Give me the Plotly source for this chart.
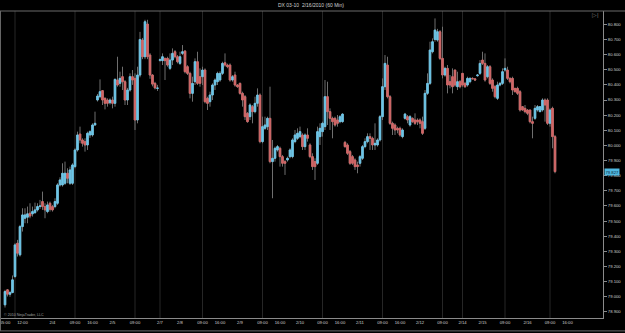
import plotly.graph_objects as go

# ---- data (DX 03-10, 60 min bars, 2/3/2010 - 2/16/2010), bar index on x ----
OPEN = [
    78.947, 79.046, 79.017, 79.028, 79.134, 79.354, 79.277, 79.464, 79.519, 79.526,
    79.552, 79.548, 79.556, 79.574, 79.596, 79.629, 79.596, 79.563, 79.618, 79.596,
    79.596, 79.618, 79.739, 79.739, 79.750, 79.816, 79.750, 79.750, 79.860, 79.970,
    80.075, 80.036, 80.025, 80.003, 80.069, 80.069, 80.135, 80.300, 80.322, 80.362,
    80.311, 80.300, 80.282, 80.300, 80.278, 80.432, 80.410, 80.454, 80.421, 80.300,
    80.366, 80.454, 80.443, 80.168, 80.465, 80.696, 80.586, 80.802, 80.597, 80.465,
    80.410, 80.377,
    80.562, 80.560, 80.575, 80.575, 80.509, 80.564, 80.619, 80.586, 80.542, 80.608,
    80.623, 80.520, 80.476, 80.344, 80.421, 80.553, 80.454, 80.454, 80.498, 80.311,
    80.289, 80.333, 80.399, 80.421, 80.432, 80.476, 80.546, 80.531, 80.531, 80.432,
    80.465, 80.399, 80.410, 80.344, 80.322, 80.212, 80.190, 80.256, 80.223, 80.278,
    80.333, 80.025, 80.113, 80.124, 80.179, 79.893, 79.915, 79.970, 79.981, 79.926,
    79.893, 79.904, 79.926, 79.926, 80.025, 80.047, 80.058, 80.069, 79.992, 80.069,
    80.003, 79.926, 79.893, 79.882, 80.058, 80.091, 80.124, 80.322, 80.223, 80.179,
    80.179, 80.168, 80.157, 80.157, 80.020, 80.003, 79.959, 79.926, 79.904, 79.871,
    79.882, 79.915, 79.992, 80.025, 80.058, 80.047, 80.003, 80.003, 80.036, 80.190,
    80.388, 80.531, 80.322, 80.146, 80.135, 80.113, 80.113, 80.058, 80.179, 80.190,
    80.135, 80.179, 80.168, 80.168, 80.168, 80.157, 80.113, 80.344, 80.410, 80.619,
    80.700, 80.696, 80.751, 80.575, 80.465, 80.509, 80.421, 80.454, 80.498, 80.388, 80.421,
    80.476, 80.410, 80.399, 80.421, 80.443, 80.440, 80.460, 80.476, 80.564, 80.542,
    80.454, 80.520, 80.432, 80.388, 80.311, 80.399, 80.410, 80.498, 80.498, 80.443,
    80.443, 80.377, 80.377, 80.355, 80.256, 80.245, 80.234, 80.234, 80.157, 80.179,
    80.234, 80.223, 80.234, 80.300, 80.300, 80.146, 80.245, 80.058,
]
HIGH = [
    79.046, 79.050, 79.040, 79.141, 79.354, 79.376, 79.475, 79.585, 79.585, 79.596,
    79.618, 79.596, 79.622, 79.618, 79.640, 79.695, 79.618, 79.629, 79.629, 79.607,
    79.651, 79.750, 79.790, 79.882, 79.893, 79.849, 79.860, 79.882, 79.981, 80.091,
    80.124, 80.047, 80.047, 80.091, 80.100, 80.146, 80.223, 80.340, 80.436, 80.366,
    80.318, 80.311, 80.311, 80.322, 80.443, 80.586, 80.487, 80.520, 80.432, 80.380,
    80.476, 80.498, 80.476, 80.520, 80.750, 80.710, 80.830, 80.830, 80.610, 80.470,
    80.420, 80.400,
    80.575, 80.608, 80.580, 80.586, 80.608, 80.641, 80.630, 80.597, 80.619, 80.663,
    80.630, 80.530, 80.487, 80.454, 80.575, 80.619, 80.509, 80.520, 80.509, 80.322,
    80.355, 80.410, 80.443, 80.487, 80.490, 80.553, 80.608, 80.540, 80.542, 80.465,
    80.487, 80.405, 80.415, 80.355, 80.333, 80.220, 80.278, 80.267, 80.322, 80.377,
    80.344, 80.190, 80.190, 80.190, 80.388, 80.036, 79.992, 80.003, 79.992, 79.937,
    79.904, 79.926, 79.981, 80.047, 80.102, 80.113, 80.124, 80.080, 80.080, 80.113,
    80.014, 79.948, 79.915, 80.124, 80.146, 80.157, 80.432, 80.421, 80.245, 80.190,
    80.190, 80.201, 80.201, 80.212, 80.030, 80.014, 79.970, 79.937, 79.915, 79.893,
    79.937, 80.003, 80.047, 80.080, 80.080, 80.058, 80.146, 80.047, 80.201, 80.443,
    80.597, 80.586, 80.333, 80.157, 80.146, 80.124, 80.124, 80.113, 80.215, 80.201,
    80.201, 80.185, 80.212, 80.179, 80.179, 80.190, 80.366, 80.476, 80.685, 80.707,
    80.839, 80.770, 80.762, 80.784, 80.520, 80.531, 80.465, 80.509, 80.498, 80.487, 80.432,
    80.476, 80.420, 80.454, 80.450, 80.450, 80.445, 80.470, 80.564, 80.619, 80.608,
    80.531, 80.531, 80.443, 80.399, 80.421, 80.420, 80.509, 80.575, 80.520, 80.450,
    80.454, 80.380, 80.388, 80.366, 80.260, 80.267, 80.240, 80.234, 80.190, 80.267,
    80.267, 80.260, 80.311, 80.311, 80.311, 80.245, 80.256, 80.069,
]
LOW = [
    78.929, 79.002, 79.000, 79.024, 79.123, 79.266, 79.266, 79.431, 79.486, 79.486,
    79.519, 79.530, 79.548, 79.563, 79.580, 79.574, 79.519, 79.552, 79.563, 79.563,
    79.585, 79.607, 79.728, 79.728, 79.739, 79.750, 79.739, 79.739, 79.849, 79.959,
    80.014, 79.992, 79.959, 79.970, 80.050, 80.058, 80.130, 80.290, 80.311, 80.267,
    80.238, 80.256, 80.270, 80.245, 80.256, 80.388, 80.388, 80.366, 80.267, 80.267,
    80.355, 80.400, 80.102, 80.146, 80.450, 80.570, 80.570, 80.570, 80.440, 80.390,
    80.370, 80.360,
    80.553, 80.531, 80.432, 80.520, 80.498, 80.531, 80.575, 80.542, 80.531, 80.597,
    80.476, 80.465, 80.311, 80.289, 80.399, 80.399, 80.388, 80.399, 80.278, 80.234,
    80.256, 80.300, 80.366, 80.399, 80.420, 80.465, 80.520, 80.510, 80.421, 80.421,
    80.388, 80.380, 80.335, 80.256, 80.168, 80.150, 80.168, 80.146, 80.212, 80.256,
    80.014, 80.014, 80.102, 80.102, 79.882, 79.651, 79.893, 79.959, 79.860, 79.860,
    79.805, 79.893, 79.915, 79.915, 80.014, 80.036, 80.047, 79.970, 79.970, 80.025,
    79.915, 79.838, 79.772, 79.871, 80.003, 80.058, 80.102, 80.135, 80.102, 80.047,
    80.124, 80.124, 80.146, 80.150, 79.985, 79.937, 79.871, 79.871, 79.838, 79.816,
    79.860, 79.904, 79.981, 80.014, 79.970, 79.970, 79.970, 79.992, 80.025, 80.168,
    80.366, 80.311, 80.135, 80.069, 80.069, 80.080, 80.058, 80.047, 80.170, 80.146,
    80.124, 80.150, 80.135, 80.135, 80.113, 80.069, 80.102, 80.333, 80.399, 80.608,
    80.685, 80.685, 80.564, 80.443, 80.454, 80.344, 80.377, 80.344, 80.388, 80.366, 80.377,
    80.388, 80.380, 80.388, 80.410, 80.435, 80.425, 80.455, 80.465, 80.531, 80.421,
    80.443, 80.399, 80.355, 80.311, 80.300, 80.390, 80.399, 80.487, 80.432, 80.410,
    80.333, 80.350, 80.333, 80.223, 80.230, 80.212, 80.200, 80.146, 80.047, 80.168,
    80.223, 80.220, 80.223, 80.157, 80.135, 80.124, 79.981, 79.816,
]
CLOSE = [
    79.035, 79.017, 79.028, 79.112, 79.343, 79.288, 79.464, 79.541, 79.541, 79.548,
    79.534, 79.563, 79.574, 79.596, 79.600, 79.596, 79.574, 79.607, 79.578, 79.574,
    79.629, 79.739, 79.772, 79.816, 79.816, 79.783, 79.838, 79.871, 79.970, 80.069,
    80.036, 80.014, 80.003, 80.080, 80.091, 80.135, 80.146, 80.326, 80.355, 80.300,
    80.278, 80.278, 80.300, 80.278, 80.436, 80.399, 80.443, 80.421, 80.300, 80.366,
    80.454, 80.432, 80.168, 80.465, 80.700, 80.586, 80.817, 80.586, 80.465, 80.405,
    80.380, 80.379,
    80.566, 80.586, 80.560, 80.531, 80.564, 80.608, 80.586, 80.553, 80.586, 80.619,
    80.487, 80.476, 80.344, 80.410, 80.553, 80.410, 80.410, 80.498, 80.289, 80.278,
    80.333, 80.399, 80.432, 80.476, 80.476, 80.542, 80.531, 80.520, 80.432, 80.454,
    80.399, 80.388, 80.344, 80.300, 80.190, 80.157, 80.267, 80.223, 80.278, 80.333,
    80.025, 80.124, 80.135, 80.179, 79.893, 79.915, 79.981, 79.992, 79.926, 79.882,
    79.882, 79.915, 79.970, 80.036, 80.069, 80.080, 80.091, 79.992, 80.069, 80.047,
    79.926, 79.860, 79.860, 80.091, 80.113, 80.146, 80.322, 80.223, 80.179, 80.157,
    80.135, 80.146, 80.190, 80.207, 79.992, 79.948, 79.882, 79.882, 79.860, 79.860,
    79.926, 79.992, 80.025, 80.058, 80.047, 80.003, 80.014, 80.036, 80.190, 80.388,
    80.542, 80.322, 80.146, 80.113, 80.102, 80.102, 80.069, 80.102, 80.207, 80.168,
    80.190, 80.157, 80.146, 80.157, 80.146, 80.080, 80.344, 80.410, 80.630, 80.685,
    80.762, 80.751, 80.575, 80.465, 80.509, 80.399, 80.399, 80.388, 80.399, 80.421, 80.388,
    80.399, 80.388, 80.443, 80.443, 80.441, 80.432, 80.465, 80.542, 80.542, 80.432,
    80.520, 80.410, 80.377, 80.322, 80.399, 80.410, 80.487, 80.509, 80.443, 80.421,
    80.366, 80.355, 80.344, 80.234, 80.234, 80.223, 80.212, 80.157, 80.146, 80.245,
    80.256, 80.256, 80.300, 80.267, 80.146, 80.234, 80.058, 79.827,
]
assert len(OPEN) == len(HIGH) == len(LOW) == len(CLOSE) == 221

# time-axis labels (bar index -> label)
TICK_POS = [0, 7, 19, 28, 35, 43, 52, 62, 70, 79, 86, 94, 103, 110, 118, 127, 134,
            142, 151, 158, 166, 175, 183, 191, 200, 209, 218, 225]
TICK_TEXT = ["05:00", "12:00", "2/4", "09:00", "16:00", "2/5", "09:00", "2/7", "2/8",
             "09:00", "16:00", "2/9", "09:00", "16:00", "2/10", "09:00", "16:00", "2/11",
             "09:00", "16:00", "2/12", "09:00", "2/14", "2/15", "09:00", "2/16", "09:00", "16:00"]
# session-start / 09:00 separator lines (bar index)
GRID_POS = [4, 28, 52, 62, 79, 103, 127, 151, 175, 183, 200, 218]

Y_TICKS = [78.9, 79.0, 79.1, 79.2, 79.3, 79.4, 79.5, 79.6, 79.7, 79.8,
           79.9, 80.0, 80.1, 80.2, 80.3, 80.4, 80.5, 80.6, 80.7, 80.8]

TITLE = "DX 03-10  2/16/2010 (60 Min)"
COPYRIGHT = "© 2010 NinjaTrader, LLC"

UP = "#6cc6e8"
DOWN = "#d26666"
WICK = "#6e6e6e"
AXIS = "#8a8a8a"
TXT = "#d0d0d0"
FONT = "Liberation Sans, Arial, sans-serif"

X = list(range(len(CLOSE)))
body_hi = [max(o, c) for o, c in zip(OPEN, CLOSE)]
body_lo = [min(o, c) for o, c in zip(OPEN, CLOSE)]

fig = go.Figure()
# wicks (full range, grey)
fig.add_trace(go.Candlestick(
    x=X, open=OPEN, high=HIGH, low=LOW, close=CLOSE,
    increasing=dict(line=dict(color=WICK, width=1), fillcolor=WICK),
    decreasing=dict(line=dict(color=WICK, width=1), fillcolor=WICK),
    hoverinfo="skip", showlegend=False,
))
# coloured bodies
fig.add_trace(go.Candlestick(
    x=X, open=OPEN, high=body_hi, low=body_lo, close=CLOSE,
    increasing=dict(line=dict(color=UP, width=1), fillcolor=UP),
    decreasing=dict(line=dict(color=DOWN, width=1), fillcolor=DOWN),
    hoverinfo="skip", showlegend=False,
))

shapes = []
for g in GRID_POS:
    shapes.append(dict(type="line", xref="x", yref="paper", x0=g, x1=g, y0=0, y1=1,
                       line=dict(color="#262626", width=1), layer="below"))
# frame lines
shapes.append(dict(type="line", xref="paper", yref="paper", x0=-0.01, x1=1.05, y0=1, y1=1,
                   line=dict(color="#6a6a6a", width=1)))
shapes.append(dict(type="line", xref="paper", yref="paper", x0=-0.01, x1=1.05, y0=-0.042, y1=-0.042,
                   line=dict(color="#6a6a6a", width=1)))
shapes.append(dict(type="line", xref="paper", yref="paper", x0=-0.0009, x1=-0.0009, y0=-0.042, y1=1,
                   line=dict(color="#6a6a6a", width=1)))

annotations = [
    dict(text=TITLE, xref="paper", yref="paper", x=0.515, y=1.019, showarrow=False,
         xanchor="center", yanchor="middle", font=dict(size=5, color=TXT, family=FONT)),
    dict(text=COPYRIGHT, xref="paper", yref="paper", x=0.002, y=0.011, showarrow=False,
         xanchor="left", yanchor="middle", font=dict(size=3.6, color="#a0a0a0", family=FONT)),
    dict(text="▷|", xref="paper", yref="paper", x=0.988, y=0.987, showarrow=False,
         xanchor="center", yanchor="middle", font=dict(size=6, color="#7a7a7a", family=FONT)),
    dict(text=f"{CLOSE[-1]:.3f}", xref="paper", yref="y", x=1.0, y=CLOSE[-1], showarrow=False,
         xanchor="left", yanchor="middle", xshift=1, bgcolor="#4fb8e0", borderpad=0.5,
         font=dict(size=4.2, color="#0b2230", family=FONT)),
]

fig.update_layout(
    width=625, height=333,
    margin=dict(l=1, r=22, t=11, b=15, pad=0),
    paper_bgcolor="#000000", plot_bgcolor="#000000",
    showlegend=False, hovermode=False,
    boxgap=0.15, boxgroupgap=0.3,
    shapes=shapes, annotations=annotations,
    xaxis=dict(
        range=[-1.6, 239.2], rangeslider=dict(visible=False),
        tickmode="array", tickvals=TICK_POS, ticktext=TICK_TEXT,
        ticklabeloverflow="allow",
        showgrid=False, zeroline=False, showline=True, linecolor=AXIS, linewidth=1,
        ticks="", tickfont=dict(size=4.2, color=TXT, family=FONT),
    ),
    yaxis=dict(
        side="right", range=[78.860, 80.888],
        tickmode="array", tickvals=Y_TICKS, tickformat=".3f",
        showgrid=False, zeroline=False, showline=True, linecolor=AXIS, linewidth=1,
        ticks="outside", ticklen=3, tickcolor=AXIS, tickwidth=1,
        tickfont=dict(size=4.2, color=TXT, family=FONT),
    ),
)

fig.write_html("out.html")
